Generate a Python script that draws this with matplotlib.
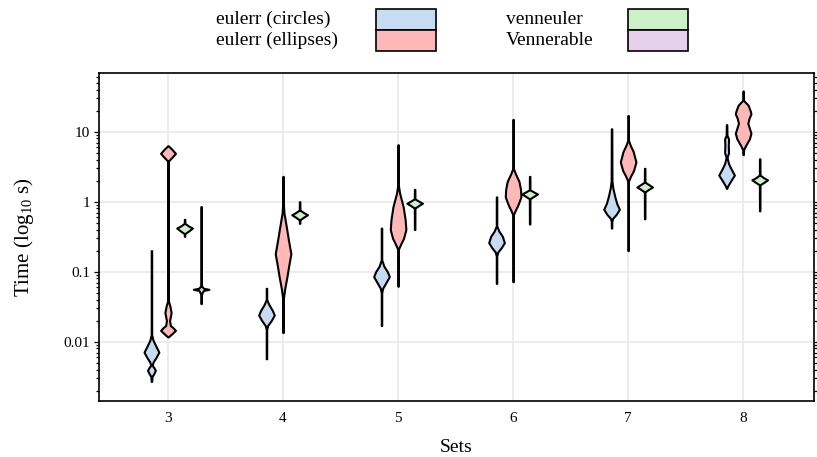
import numpy as np
import matplotlib
matplotlib.use("Agg")
import matplotlib.pyplot as plt
from matplotlib.patches import Rectangle
from matplotlib.ticker import LogLocator, NullFormatter

plt.rcParams['font.family'] = ['Liberation Serif', 'DejaVu Serif']
plt.rcParams['mathtext.fontset'] = 'custom'
plt.rcParams['mathtext.rm'] = 'Liberation Serif'

# Data: for each violin, outline sample times (s)
# from top to bottom and the relative density (half-width) at each one

sets = [3, 4, 5, 6, 7, 8]
methods = ["eulerr (circles)", "eulerr (ellipses)", "venneuler", "Vennerable"]
colors = ["#C6DCF2", "#FFB8B8", "#CCF0C8", "#E6D0EC"]

circles_time = [
    [0.20, 0.0126, 0.0105, 0.0087, 0.0071, 0.0060, 0.0051, 0.0046, 0.0042, 0.0039, 0.0035, 0.0032, 0.0027],
    [0.058, 0.040, 0.034, 0.028, 0.024, 0.020, 0.017, 0.015, 0.0057],
    [0.42, 0.148, 0.12, 0.10, 0.085, 0.071, 0.058, 0.050, 0.017],
    [1.17, 0.45, 0.38, 0.32, 0.26, 0.22, 0.19, 0.166, 0.068],
    [11, 2.0, 1.6, 1.2, 0.95, 0.78, 0.66, 0.58, 0.52, 0.42],
    [12.6, 8.9, 7.9, 6.3, 5.0, 4.3, 3.5, 2.9, 2.4, 2.0, 1.66, 1.55],
]
circles_dens = [
    [0.03, 0.03, 0.2, 0.55, 0.95, 0.6, 0.2, 0.1, 0.35, 0.5, 0.3, 0.08, 0.03],
    [0.03, 0.03, 0.3, 0.75, 1.0, 0.6, 0.15, 0.03, 0.03],
    [0.03, 0.03, 0.3, 0.75, 1.0, 0.6, 0.15, 0.03, 0.03],
    [0.03, 0.03, 0.3, 0.75, 1.0, 0.6, 0.15, 0.03, 0.03],
    [0.03, 0.05, 0.15, 0.4, 0.65, 1.0, 0.6, 0.15, 0.03, 0.03],
    [0.03, 0.05, 0.25, 0.22, 0.25, 0.06, 0.25, 0.6, 1.0, 0.55, 0.12, 0.03],
]

ellipses_time = [
    [6.3, 5.6, 4.9, 4.3, 3.8, 3.2, 0.039, 0.032, 0.026, 0.020, 0.017, 0.016, 0.0145, 0.013, 0.0117],
    [2.3, 1.0, 0.69, 0.45, 0.28, 0.18, 0.126, 0.085, 0.056, 0.040, 0.0135],
    [6.5, 1.74, 1.32, 0.85, 0.56, 0.40, 0.30, 0.25, 0.21, 0.062],
    [15, 3.0, 2.5, 1.95, 1.5, 1.17, 0.89, 0.74, 0.65, 0.072],
    [17, 7.6, 6.3, 5.2, 3.7, 2.8, 2.3, 1.95, 0.2],
    [38, 28, 24, 20, 18, 15.5, 13.2, 11.2, 9.5, 7.9, 6.3, 5.5, 4.7],
]
ellipses_dens = [
    [0.03, 0.5, 0.95, 0.5, 0.04, 0.03, 0.03, 0.25, 0.4, 0.2, 0.3, 0.6, 0.95, 0.5, 0.03],
    [0.03, 0.03, 0.12, 0.4, 0.7, 1.0, 0.75, 0.5, 0.2, 0.03, 0.03],
    [0.03, 0.03, 0.2, 0.65, 0.9, 1.0, 0.7, 0.35, 0.05, 0.03],
    [0.03, 0.03, 0.3, 0.75, 0.95, 1.0, 0.6, 0.25, 0.04, 0.03],
    [0.03, 0.03, 0.3, 0.65, 1.0, 0.7, 0.3, 0.03, 0.03],
    [0.03, 0.05, 0.63, 0.9, 1.0, 0.75, 0.6, 0.8, 1.0, 0.8, 0.3, 0.05, 0.03],
]

venneuler_time = [
    [0.56, 0.49, 0.45, 0.42, 0.38, 0.35, 0.32],
    [1.0, 0.76, 0.70, 0.65, 0.60, 0.55, 0.49],
    [1.5, 1.1, 1.02, 0.95, 0.88, 0.81, 0.40],
    [2.3, 1.48, 1.38, 1.29, 1.19, 1.10, 0.48],
    [3.0, 1.9, 1.76, 1.62, 1.5, 1.38, 0.57],
    [4.1, 2.4, 2.2, 2.05, 1.88, 1.74, 0.74],
]
venneuler_dens = [[0.03, 0.04, 0.5, 1.0, 0.5, 0.04, 0.03]] * 6

# Vennerable only ran for 3 sets
vennerable_time = [[0.85, 0.063, 0.058, 0.056, 0.054, 0.050, 0.047, 0.044, 0.035]]
vennerable_dens = [[0.03, 0.03, 0.3, 1.0, 0.3, 0.12, 0.05, 0.03, 0.03]]

series = [
    (circles_time, circles_dens, sets),
    (ellipses_time, ellipses_dens, sets),
    (venneuler_time, venneuler_dens, sets),
    (vennerable_time, vennerable_dens, sets[:1]),
]

offsets = [-0.144, 0.0, 0.144, 0.288]
half_width = 0.068

fig = plt.figure(figsize=(8.17, 4.57), dpi=100)
W, H = 817, 457
ax = fig.add_axes([99 / W, 1 - 400.7 / H, (814 - 99) / W, (400.7 - 73.3) / H])
ax.set_yscale('log')

for k, (times, dens, xs) in enumerate(series):
    for x, t, d in zip(xs, times, dens):
        t = np.asarray(t)
        d = np.asarray(d) * half_width
        xc = x + offsets[k]
        ax.fill_betweenx(t, xc - d, xc + d, facecolor=colors[k],
                         edgecolor='black', linewidth=1.5, zorder=3)

ax.set_xlim(2.4, 8.616)
ax.set_ylim(10 ** -2.843, 10 ** 1.834)
ax.set_xticks(sets)
ax.set_xticklabels([str(s) for s in sets])
ax.set_yticks([0.01, 0.1, 1, 10])
ax.set_yticklabels(['0.01', '0.1', '1', '10'])
ax.yaxis.set_minor_locator(LogLocator(base=10, subs=np.arange(2, 10)))
ax.yaxis.set_minor_formatter(NullFormatter())

ax.grid(True, which='major', color='#EBEBEB', linewidth=1.3, zorder=0)
ax.set_axisbelow(True)
ax.tick_params(axis='x', length=0, pad=8, labelsize=11)
ax.tick_params(axis='y', which='both', left=True, right=True, direction='out',
               width=0.9, labelsize=11, pad=3)
ax.tick_params(axis='y', which='major', length=3.5)
ax.tick_params(axis='y', which='minor', length=2.5)
for sp in ax.spines.values():
    sp.set_linewidth(1.2)

ax.set_xlabel('Sets', fontsize=14, labelpad=10)
ax.set_ylabel('Time (log$_{\\mathrm{10}}$ s)', fontsize=15, labelpad=20)

# legend, drawn by hand so labels sit left-aligned in front of the keys
label_x = [216, 506]
box_x = [376, 628]
box_w, box_h, box_top = 60, 21, 9
for i, (name, col) in enumerate(zip(methods, colors)):
    c, r = divmod(i, 2)
    y0 = box_top + r * box_h
    fig.patches.append(Rectangle((box_x[c] / W, 1 - (y0 + box_h) / H), box_w / W, box_h / H,
                                 transform=fig.transFigure, facecolor=col,
                                 edgecolor='black', linewidth=1.2))
    fig.text(label_x[c] / W, 1 - (y0 + box_h / 2) / H, name, fontsize=14,
             ha='left', va='center')

fig.savefig('out.png', dpi=100)
